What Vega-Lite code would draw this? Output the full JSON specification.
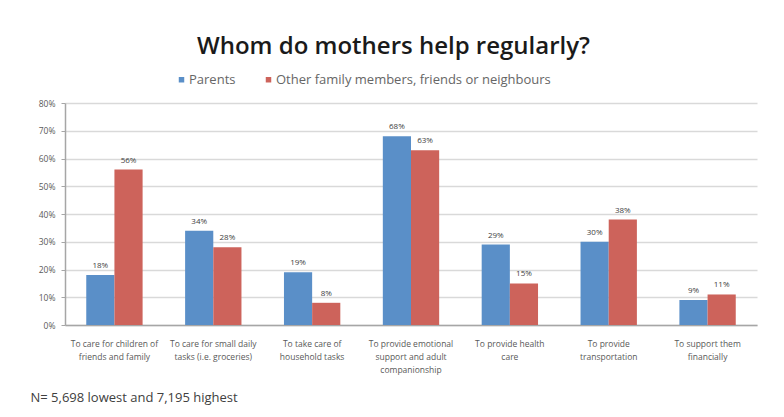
{
  "$schema": "https://vega.github.io/schema/vega-lite/v6.json",
  "autosize": {"type": "none"},
  "width": 692,
  "height": 222,
  "padding": {"left": 65, "top": 103, "right": 27, "bottom": 92},
  "background": "white",
  "title": {
    "text": "Whom do mothers help regularly?",
    "fontSize": 24,
    "font": "Open Sans",
    "fontWeight": 600,
    "color": "#1a1a1a",
    "anchor": "middle",
    "frame": "bounds",
    "offset": 14
  },
  "config": {
    "view": {"stroke": null},
    "font": "Open Sans"
  },
  "data": {
    "values": [
      {"task": "To care for children of friends and family", "series": "Parents", "value": 0.18, "label": "18%"},
      {"task": "To care for children of friends and family", "series": "Other family members, friends or neighbours", "value": 0.56, "label": "56%"},
      {"task": "To care for small daily tasks (i.e. groceries)", "series": "Parents", "value": 0.34, "label": "34%"},
      {"task": "To care for small daily tasks (i.e. groceries)", "series": "Other family members, friends or neighbours", "value": 0.28, "label": "28%"},
      {"task": "To take care of household tasks", "series": "Parents", "value": 0.19, "label": "19%"},
      {"task": "To take care of household tasks", "series": "Other family members, friends or neighbours", "value": 0.08, "label": "8%"},
      {"task": "To provide emotional support and adult companionship", "series": "Parents", "value": 0.68, "label": "68%"},
      {"task": "To provide emotional support and adult companionship", "series": "Other family members, friends or neighbours", "value": 0.63, "label": "63%"},
      {"task": "To provide health care", "series": "Parents", "value": 0.29, "label": "29%"},
      {"task": "To provide health care", "series": "Other family members, friends or neighbours", "value": 0.15, "label": "15%"},
      {"task": "To provide transportation", "series": "Parents", "value": 0.30, "label": "30%"},
      {"task": "To provide transportation", "series": "Other family members, friends or neighbours", "value": 0.38, "label": "38%"},
      {"task": "To support them financially", "series": "Parents", "value": 0.09, "label": "9%"},
      {"task": "To support them financially", "series": "Other family members, friends or neighbours", "value": 0.11, "label": "11%"}
    ]
  },
  "encoding": {
    "x": {
      "field": "task",
      "type": "nominal",
      "sort": null,
      "scale": {"paddingInner": 0.43, "paddingOuter": 0.215},
      "axis": {
        "labelAngle": 0,
        "labelFontSize": 8.5,
        "labelColor": "#595959",
        "labelPadding": 14,
        "labelLineHeight": 13,
        "labelExpr": "datum.label == 'To care for children of friends and family' ? ['To care for children of', 'friends and family'] : datum.label == 'To care for small daily tasks (i.e. groceries)' ? ['To care for small daily', 'tasks (i.e. groceries)'] : datum.label == 'To take care of household tasks' ? ['To take care of', 'household tasks'] : datum.label == 'To provide emotional support and adult companionship' ? ['To provide emotional', 'support and adult', 'companionship'] : datum.label == 'To provide health care' ? ['To provide health', 'care'] : datum.label == 'To provide transportation' ? ['To provide', 'transportation'] : ['To support them', 'financially']",
        "ticks": false,
        "domainColor": "#a6a6a6",
        "domainWidth": 1.5,
        "title": "N= 5,698 lowest and 7,195 highest",
        "titleFontSize": 13,
        "titleFontWeight": "normal",
        "titleColor": "#404040",
        "titleAnchor": "start",
        "titleAlign": "left",
        "titleX": -35,
        "titleY": 66
      }
    },
    "xOffset": {
      "field": "series",
      "type": "nominal",
      "sort": ["Parents", "Other family members, friends or neighbours"]
    },
    "y": {
      "field": "value",
      "type": "quantitative",
      "scale": {"domain": [0, 0.8]},
      "axis": {
        "format": ".0%",
        "values": [0, 0.1, 0.2, 0.3, 0.4, 0.5, 0.6, 0.7, 0.8],
        "labelFontSize": 8.5,
        "labelColor": "#595959",
        "labelPadding": 6,
        "labelOverlap": false,
        "tickSize": 4,
        "tickColor": "#a6a6a6",
        "domainColor": "#a6a6a6",
        "domainWidth": 1.5,
        "gridColor": "#d9d9d9",
        "gridWidth": 1.5,
        "title": null
      }
    }
  },
  "layer": [
    {
      "mark": {"type": "bar"},
      "encoding": {
        "color": {
          "field": "series",
          "type": "nominal",
          "scale": {
            "domain": ["Parents", "Other family members, friends or neighbours"],
            "range": ["#5a8fc8", "#cd635b"]
          },
          "legend": {
            "title": null,
            "orient": "none",
            "direction": "horizontal",
            "legendX": 110,
            "legendY": -30,
            "symbolType": "square",
            "symbolSize": 30,
            "labelFontSize": 13,
            "labelColor": "#666666",
            "labelLimit": 500,
            "columnPadding": 26,
            "labelOffset": 1
          }
        }
      }
    },
    {
      "mark": {"type": "text", "dy": -5, "fontSize": 8, "color": "#404040", "baseline": "bottom"},
      "encoding": {
        "text": {"field": "label"}
      }
    }
  ]
}
